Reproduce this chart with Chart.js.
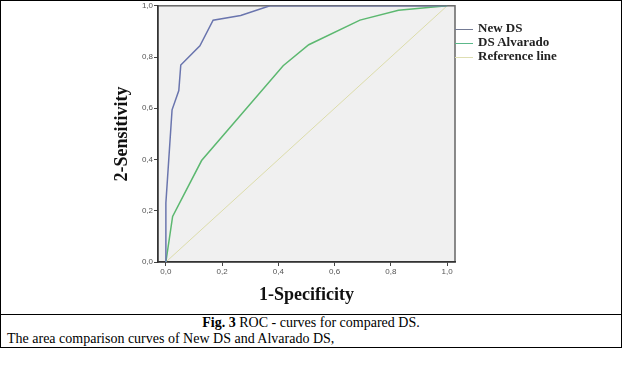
<!DOCTYPE html>
<html lang="en">
<head>
    <meta charset="UTF-8">
    <title>ROC curves</title>
    <script src="https://cdn.jsdelivr.net/npm/chart.js@4.4.0/dist/chart.umd.min.js"></script>
    <style>
        body {
            margin: 0;
            background: #fff;
        }
        #frame {
            position: absolute;
            left: 0;
            top: 0;
            width: 622px;
            height: 348px;
            box-sizing: border-box;
            border: 1px solid #000;
        }
        #chart {
            position: absolute;
            left: 0;
            top: 0;
        }
        /* legend on the right of the plot */
        #legend {
            position: absolute;
            left: 455px;
            top: 21px;
            font-family: 'Liberation Serif', 'Times New Roman', serif;
            font-weight: bold;
            font-size: 13px;
            color: #222;
        }
        .item {
            height: 14px;
            line-height: 14px;
            white-space: nowrap;
        }
        .swatch {
            display: inline-block;
            width: 18px;
            height: 0;
            border-top: 1.5px solid;
            vertical-align: middle;
            margin-right: 5px;
        }
        #caption {
            position: absolute;
            left: 0;
            top: 314px;
            width: 622px;
            height: 34px;
            box-sizing: border-box;
            border-top: 1px solid #000;
            font-family: 'Liberation Serif', 'Times New Roman', serif;
            font-size: 14px;
            line-height: 15px;
            color: #000;
        }
        #caption .l1 { position: absolute; left: 0; top: 0; width: 100%; text-align: center; }
        #caption .l2 { position: absolute; left: 7px; top: 16px; white-space: nowrap; }
    </style>
</head>
<body>
    <div id="frame"></div>
    <canvas id="chart" width="624" height="314"></canvas>
    <div id="legend"></div>
    <div id="caption">
        <div class="l1"><b>Fig. 3</b> ROC - curves for compared DS.</div>
        <div class="l2">The area comparison curves of New DS and Alvarado DS,</div>
    </div>

    <script>
        // values (1-specificity, sensitivity)
        const newDsX = [0, 0, 0.022, 0.046, 0.053, 0.121, 0.168, 0.266, 0.37, 1.0];
        const newDsY = [0, 0.23, 0.594, 0.669, 0.769, 0.844, 0.944, 0.962, 1.0, 1.0];

        const alvaradoX = [0, 0.024, 0.127, 0.417, 0.508, 0.69, 0.827, 1.0];
        const alvaradoY = [0, 0.178, 0.396, 0.766, 0.848, 0.944, 0.983, 1.0];

        const refX = [0, 1];
        const refY = [0, 1];

        const seriesNames = ['New DS', 'DS Alvarado', 'Reference line'];
        const seriesColors = ['#6a75ae', '#5cb870', '#dcdcaa'];
        const legendColors = ['#737a94', '#5cb88a', '#dedeb2'];

        const xTicks = [0, 0.2, 0.4, 0.6, 0.8, 1.0];
        const yTicks = [0, 0.2, 0.4, 0.6, 0.8, 1.0];

        function toPoints(xs, ys) {
            return xs.map((x, i) => ({ x: x, y: ys[i] }));
        }

        function commaLabel(v) {
            return v.toFixed(1).replace('.', ',');
        }

        // grey plot background and frame
        const plotBox = {
            id: 'plotBox',
            beforeDraw(chart) {
                const a = chart.chartArea;
                const ctx = chart.ctx;
                ctx.save();
                ctx.fillStyle = '#f0f0f0';
                ctx.fillRect(a.left, a.top, a.right - a.left, a.bottom - a.top);
                ctx.strokeStyle = '#666';
                ctx.lineWidth = 1.5;
                ctx.strokeRect(a.left, a.top, a.right - a.left, a.bottom - a.top);
                ctx.restore();
            }
        };

        const tickFont = { family: "'Liberation Sans', Arial, sans-serif", size: 8 };
        const titleFont = { family: "'Liberation Serif', 'Times New Roman', serif", size: 18, weight: 'bold' };

        new Chart(document.getElementById('chart'), {
            type: 'scatter',
            data: {
                datasets: [
                    {
                        label: seriesNames[0],
                        data: toPoints(newDsX, newDsY),
                        borderColor: seriesColors[0],
                        borderWidth: 1.5
                    },
                    {
                        label: seriesNames[1],
                        data: toPoints(alvaradoX, alvaradoY),
                        borderColor: seriesColors[1],
                        borderWidth: 1.5
                    },
                    {
                        label: seriesNames[2],
                        data: toPoints(refX, refY),
                        borderColor: seriesColors[2],
                        borderWidth: 1
                    }
                ]
            },
            options: {
                responsive: false,
                animation: false,
                devicePixelRatio: 1,
                showLine: true,
                elements: { point: { radius: 0 }, line: { tension: 0 } },
                layout: { padding: { left: 112, right: 169, top: 5, bottom: 8 } },
                plugins: {
                    legend: { display: false },
                    tooltip: { enabled: false }
                },
                scales: {
                    x: {
                        type: 'linear',
                        min: -0.028,
                        max: 1.028,
                        afterFit: s => { s.height = 44; },
                        afterBuildTicks: s => { s.ticks = xTicks.map(v => ({ value: v })); },
                        grid: { drawOnChartArea: false, tickLength: 4, color: '#444' },
                        border: { color: '#333', width: 1.5 },
                        ticks: { font: tickFont, color: '#555', padding: 1, callback: commaLabel, maxRotation: 0 },
                        title: { display: true, text: '1-Specificity', font: titleFont, color: '#111', padding: 0 }
                    },
                    y: {
                        type: 'linear',
                        min: 0,
                        max: 1,
                        afterFit: s => { s.width = 46; },
                        afterBuildTicks: s => { s.ticks = yTicks.map(v => ({ value: v })); },
                        grid: { drawOnChartArea: false, tickLength: 4, color: '#444' },
                        border: { color: '#333', width: 1.5 },
                        ticks: { font: tickFont, color: '#555', padding: 1, callback: commaLabel },
                        title: { display: true, text: '2-Sensitivity', font: titleFont, color: '#111', padding: 0 }
                    }
                }
            },
            plugins: [plotBox]
        });

        // legend
        const legend = document.getElementById('legend');
        seriesNames.forEach((name, i) => {
            const row = document.createElement('div');
            row.className = 'item';
            const sw = document.createElement('span');
            sw.className = 'swatch';
            sw.style.borderColor = legendColors[i];
            row.appendChild(sw);
            row.appendChild(document.createTextNode(name));
            legend.appendChild(row);
        });
    </script>
</body>
</html>
